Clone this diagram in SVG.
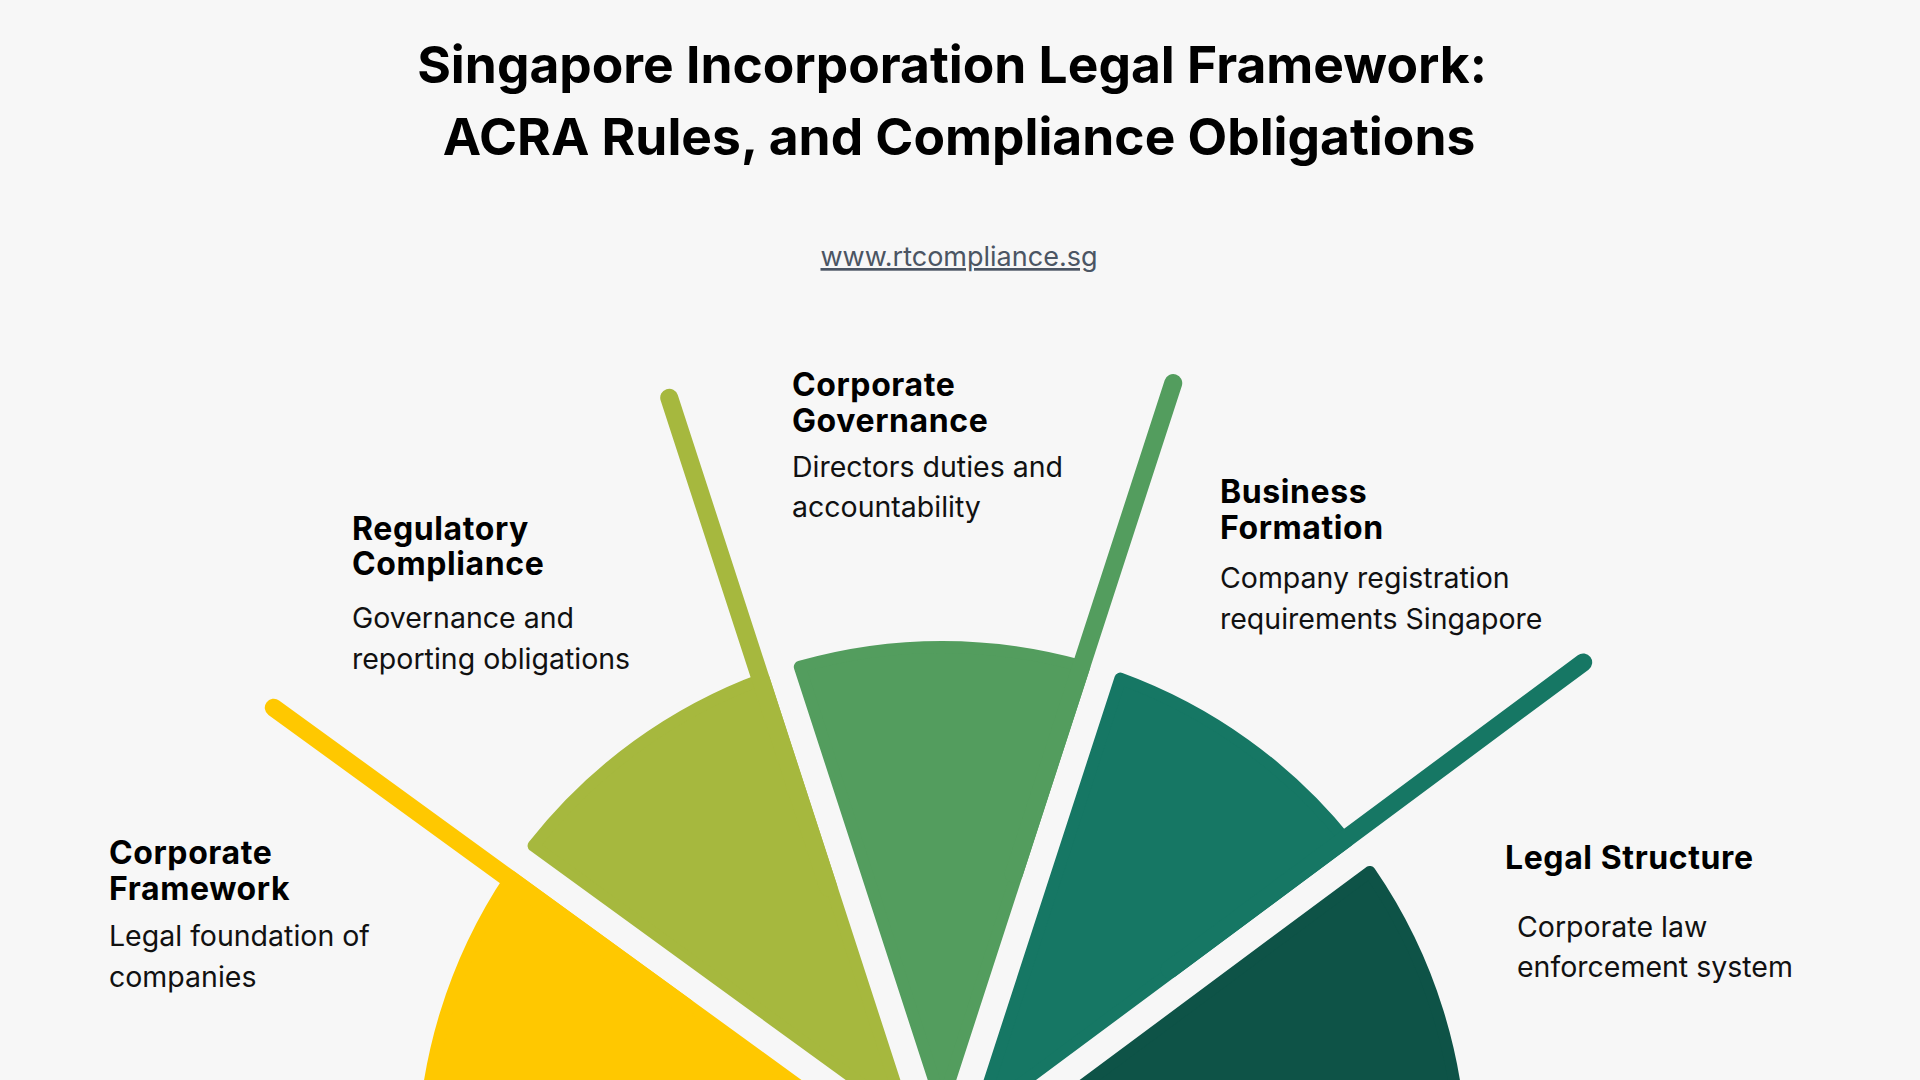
<svg xmlns="http://www.w3.org/2000/svg" width="1920" height="1080" viewBox="0 0 1920 1080">
  <style>
    .title { font-family: Inter, "Liberation Sans", sans-serif; font-weight: 700; font-size: 51.5px; fill: #000; }
    .url { font-family: Inter, "Liberation Sans", sans-serif; font-size: 27px; fill: #4b5563; text-decoration: underline; }
    .head { font-family: Inter, "Liberation Sans", sans-serif; font-weight: 700; font-size: 32px; letter-spacing: 0.6px; fill: #000; }
    .desc { font-family: Inter, "Liberation Sans", sans-serif; font-weight: 400; font-size: 28.5px; fill: #111; }
    .sector { stroke-width: 12; stroke-linejoin: round; }
    .ray { fill: none; stroke-width: 18; stroke-linecap: round; }
  </style>
  <rect x="0" y="0" width="1920" height="1080" fill="#f7f7f7"/>

  <g id="title">
    <text class="title" x="952" y="83" text-anchor="middle">Singapore Incorporation Legal Framework:</text>
    <text class="title" x="959" y="155" text-anchor="middle">ACRA Rules, and Compliance Obligations</text>
    <text class="url" x="959" y="266" text-anchor="middle">www.rtcompliance.sg</text>
  </g>

  <g id="connectors"></g>

  <g id="node-corporate-framework">
    <path class="sector" fill="#ffc800" stroke="#ffc800" d="M 909.67 1166 L 511.23 876.51 A 519 519 0 0 0 423 1166 Z"/>
    <line class="ray" stroke="#ffc800" x1="686.36" y1="1007.46" x2="273.77" y2="707.69"/>
    <text class="head" x="109" y="864">Corporate</text>
    <text class="head" x="109" y="900">Framework</text>
    <text class="desc" x="109" y="946">Legal foundation of</text>
    <text class="desc" x="109" y="987">companies</text>
  </g>

  <g id="node-regulatory-compliance">
    <path class="sector" fill="#a6b83e" stroke="#a6b83e" d="M 905.86 1116.25 L 763.66 678.60 A 519 519 0 0 0 533.57 845.77 Z"/>
    <line class="ray" stroke="#a6b83e" x1="828.37" y1="887.48" x2="669.23" y2="397.69"/>
    <text class="head" x="352" y="540">Regulatory</text>
    <text class="head" x="352" y="575">Compliance</text>
    <text class="desc" x="352" y="628">Governance and</text>
    <text class="desc" x="352" y="669">reporting obligations</text>
  </g>

  <g id="node-corporate-governance">
    <path class="sector" fill="#539d5e" stroke="#539d5e" d="M 942 1104.51 L 1084.20 666.86 A 519 519 0 0 0 799.80 666.86 Z"/>
    <line class="ray" stroke="#539d5e" x1="1013.79" y1="873.88" x2="1173.24" y2="383.14"/>
    <text class="head" x="792" y="396">Corporate</text>
    <text class="head" x="792" y="432">Governance</text>
    <text class="desc" x="792" y="477">Directors duties and</text>
    <text class="desc" x="792" y="517">accountability</text>
  </g>

  <g id="node-business-formation">
    <path class="sector" fill="#167764" stroke="#167764" d="M 978.47 1115.25 L 1347.05 841.52 A 519 519 0 0 0 1120.34 678.60 Z"/>
    <line class="ray" stroke="#167764" x1="1169.73" y1="969.47" x2="1583.18" y2="662.42"/>
    <text class="head" x="1220" y="503">Business</text>
    <text class="head" x="1220" y="539">Formation</text>
    <text class="desc" x="1220" y="588">Company registration</text>
    <text class="desc" x="1220" y="629">requirements Singapore</text>
  </g>

  <g id="node-legal-structure">
    <path class="sector" fill="#0e5347" stroke="#0e5347" d="M 973.87 1166 L 1461 1166 A 519 519 0 0 0 1369.71 872.02 Z"/>
    <text class="head" x="1505" y="869">Legal Structure</text>
    <text class="desc" x="1517" y="937">Corporate law</text>
    <text class="desc" x="1517" y="977">enforcement system</text>
  </g>
</svg>
